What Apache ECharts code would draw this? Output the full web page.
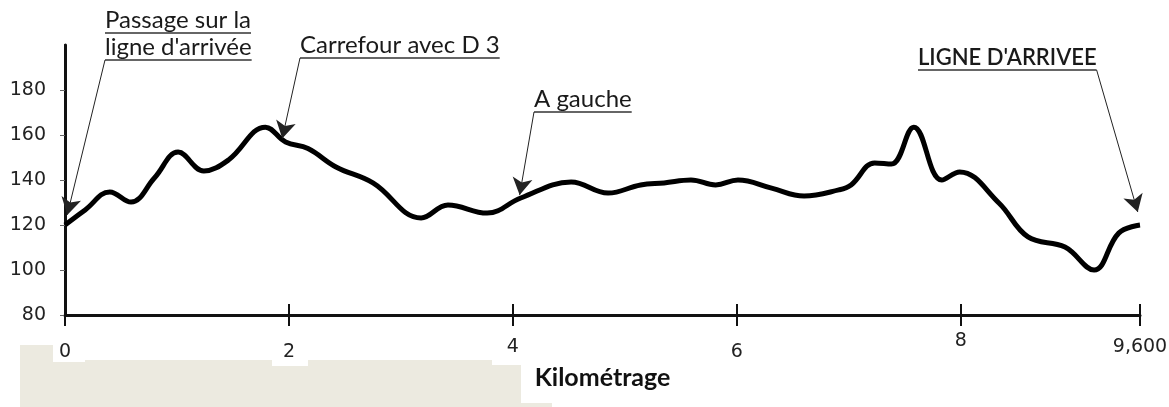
<!DOCTYPE html>
<html>
<head>
<meta charset="utf-8">
<script src="https://cdn.jsdelivr.net/npm/echarts@6/dist/echarts.min.js"></script>
<style>
  html, body { margin: 0; padding: 0; background: #fff; }
  #profil { width: 1169px; height: 407px; }
</style>
</head>
<body>
<div id="profil"></div>
<script>
// profil du parcours : distance (km) / altitude (m)
const km = [0, 0.18, 0.40, 0.59, 0.80, 1.01, 1.24, 1.46, 1.79, 1.97, 2.17, 2.42, 2.75, 3.18, 3.42,
  3.77, 4.07, 4.52, 4.85, 5.14, 5.35, 5.59, 5.81, 6.01, 6.31, 6.60, 6.91, 7.02, 7.23, 7.38,
  7.58, 7.83, 7.99, 8.34, 8.60, 8.93, 9.19, 9.41, 9.60];
const altitude = [120, 126.7, 134.7, 130.2, 141, 152.4, 144, 148.9, 163.5, 156.9, 154, 145.8, 138.7, 123.1, 128.9,
  125.3, 132, 139.1, 134.2, 137.8, 138.7, 140, 137.8, 140, 136.4, 132.9, 135.6, 137.8, 147.6, 147.1,
  163.5, 140, 143.6, 129.8, 114.7, 110.2, 100, 116.4, 120];

const kmTicks = [0, 2, 4, 6, 8, 9.6];
const kmTickLabels = ['0', '2', '4', '6', '8', '9,600'];
const altTicks = [80, 100, 120, 140, 160, 180];

// annotations : texte et point visé sur le profil
const noteTexts = [['Passage sur la', "ligne d'arrivée"], ['Carrefour avec D 3'], ['A gauche'], ["LIGNE D'ARRIVEE"]];
const noteKm = [0.02, 1.94, 4.06, 9.58];
const noteAlt = [124.5, 158.5, 133.3, 125.8];

// placement des textes (px)
const noteLayout = [
  {x: 105, y: 33, lh: 27, size: 24, bold: false, tail: 'left'},
  {x: 300, y: 58, lh: 27, size: 24, bold: false, tail: 'left'},
  {x: 534, y: 112, lh: 27, size: 24, bold: false, tail: 'left'},
  {x: 918, y: 70, lh: 27, size: 22, bold: true, tail: 'right'}
];
// décalage vertical des étiquettes km (comme sur le scan)
const kmLabelStyle = ['low', 'low', 'mid', 'low', 'high', 'mid'];

const chartDom = document.getElementById('profil');
const myChart = echarts.init(chartDom);

const ctx = document.createElement('canvas').getContext('2d');
function textWidth(str, font) {
  ctx.font = font;
  return ctx.measureText(str).width;
}

// fond beige du scan sous l'axe
const graphics = [
  {
    type: 'polygon', z: -10,
    shape: {
      points: [[20, 345], [53, 345], [53, 362], [85, 362], [85, 360], [272, 360], [272, 366], [308, 366],
        [308, 360], [492, 360], [492, 365], [521, 365], [521, 403], [552, 403], [552, 407], [20, 407]]
    },
    style: {fill: '#ECEAE0'}
  }
];
const leaders = [];

noteTexts.forEach(function (lines, i) {
  const lay = noteLayout[i];
  const font = (lay.bold ? '600 ' : '') + lay.size + 'px Lato';
  let tailX = lay.x, tailY = lay.y;
  lines.forEach(function (line, j) {
    const y = lay.y + j * lay.lh;
    const w = textWidth(line, font);
    graphics.push({
      type: 'text',
      style: {
        text: line, x: lay.x, y: y - 1, font: font, fill: '#1a1a1a',
        align: 'left', verticalAlign: 'bottom', textAlign: 'left', textVerticalAlign: 'bottom'
      }
    });
    graphics.push({
      type: 'line',
      shape: {x1: lay.x, y1: y, x2: lay.x + w, y2: y},
      style: {stroke: '#333', lineWidth: 1.3}
    });
    tailX = lay.tail === 'right' ? lay.x + w : lay.x;
    tailY = y;
  });
  leaders.push([{x: tailX, y: tailY}, {coord: [noteKm[i], noteAlt[i]]}]);
});

const labelFont = {fontFamily: 'DejaVu Sans', fontSize: 19, color: '#222', lineHeight: 20};

const option = {
  animation: false,
  grid: {left: 65, right: 29, top: 45, bottom: 92, outerBoundsMode: 'none'},
  xAxis: [
    {
      type: 'value',
      min: 0,
      max: 9.6,
      axisLine: {show: true, onZero: false, lineStyle: {color: '#111', width: 3}},
      axisTick: {show: true, length: 11, customValues: kmTicks, lineStyle: {color: '#111', width: 2}},
      axisLabel: {
        customValues: kmTicks,
        margin: 16,
        fontFamily: 'DejaVu Sans',
        fontSize: 19,
        color: '#222',
        formatter: function (v) {
          const k = kmTicks.indexOf(v);
          return k >= 0 ? '{' + kmLabelStyle[k] + '|' + kmTickLabels[k] + '}' : '';
        },
        rich: {
          low: Object.assign({padding: [22, 0, 0, 0]}, labelFont),
          mid: Object.assign({padding: [13, 0, 0, 0]}, labelFont),
          high: Object.assign({padding: [0, 0, 0, 0]}, labelFont)
        }
      },
      splitLine: {show: false},
      name: 'Kilométrage',
      nameLocation: 'middle',
      nameGap: 50,
      nameMoveOverlap: false,
      nameTextStyle: {
        fontFamily: 'Lato',
        fontWeight: 'bold',
        fontSize: 25,
        color: '#111'
      }
    },
    {
      type: 'value',
      min: 0,
      max: 9.6,
      position: 'bottom',
      axisLine: {show: false},
      axisTick: {show: true, inside: true, length: 11, customValues: kmTicks, lineStyle: {color: '#111', width: 2}},
      axisLabel: {show: false},
      splitLine: {show: false}
    }
  ],
  yAxis: [
    {
      type: 'value',
      min: 80,
      max: 200,
      axisLine: {show: true, lineStyle: {color: '#111', width: 3}},
      axisTick: {show: true, length: 5, customValues: altTicks, lineStyle: {color: '#666', width: 1}},
      axisLabel: {
        customValues: altTicks,
        margin: 19,
        fontFamily: 'DejaVu Sans',
        fontSize: 19,
        color: '#222'
      },
      splitLine: {show: false}
    },
    {
      type: 'value',
      min: 80,
      max: 200,
      position: 'right',
      axisLine: {show: true, lineStyle: {color: '#111', width: 2}},
      axisTick: {show: false},
      axisLabel: {show: false},
      splitLine: {show: false}
    }
  ],
  graphic: graphics,
  series: [
    {
      name: 'Profil',
      type: 'line',
      data: km.map(function (d, i) { return [d, altitude[i]]; }),
      smooth: 0.4,
      showSymbol: false,
      lineStyle: {color: '#000', width: 5},
      z: 3,
      markLine: {
        silent: true,
        symbol: ['none', 'arrow'],
        symbolSize: [15, 17],
        label: {show: false},
        lineStyle: {color: '#222', width: 1, type: 'solid'},
        emphasis: {disabled: true},
        data: leaders
      }
    }
  ]
};
myChart.setOption(option);

window.addEventListener('resize', function () {
  myChart.resize();
});
</script>
</body>
</html>
